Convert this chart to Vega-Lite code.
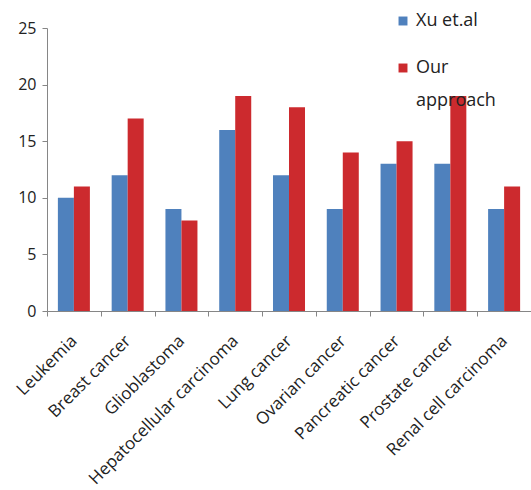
{
  "$schema": "https://vega.github.io/schema/vega-lite/v6.json",
  "width": 484,
  "height": 283,
  "autosize": {"type": "none"},
  "padding": {"left": 47, "top": 28, "right": 0, "bottom": 179},
  "background": "white",
  "config": {
    "view": {"stroke": null},
    "font": "Open Sans",
    "axis": {"labelFont": "Open Sans", "labelColor": "#222222", "domainColor": "#868686", "tickColor": "#868686", "grid": false, "title": null},
    "legend": {"labelFont": "Open Sans", "labelColor": "#222222"},
    "style": {"guide-label": {"lineHeight": 33}}
  },
  "data": {
    "values": [
      {"cancer": "Leukemia", "method": "Xu et.al", "count": 10},
      {"cancer": "Leukemia", "method": "Our approach", "count": 11},
      {"cancer": "Breast cancer", "method": "Xu et.al", "count": 12},
      {"cancer": "Breast cancer", "method": "Our approach", "count": 17},
      {"cancer": "Glioblastoma", "method": "Xu et.al", "count": 9},
      {"cancer": "Glioblastoma", "method": "Our approach", "count": 8},
      {"cancer": "Hepatocellular carcinoma", "method": "Xu et.al", "count": 16},
      {"cancer": "Hepatocellular carcinoma", "method": "Our approach", "count": 19},
      {"cancer": "Lung cancer", "method": "Xu et.al", "count": 12},
      {"cancer": "Lung cancer", "method": "Our approach", "count": 18},
      {"cancer": "Ovarian cancer", "method": "Xu et.al", "count": 9},
      {"cancer": "Ovarian cancer", "method": "Our approach", "count": 14},
      {"cancer": "Pancreatic cancer", "method": "Xu et.al", "count": 13},
      {"cancer": "Pancreatic cancer", "method": "Our approach", "count": 15},
      {"cancer": "Prostate cancer", "method": "Xu et.al", "count": 13},
      {"cancer": "Prostate cancer", "method": "Our approach", "count": 19},
      {"cancer": "Renal cell carcinoma", "method": "Xu et.al", "count": 9},
      {"cancer": "Renal cell carcinoma", "method": "Our approach", "count": 11}
    ]
  },
  "mark": {"type": "bar"},
  "encoding": {
    "x": {
      "field": "cancer",
      "type": "nominal",
      "sort": null,
      "scale": {"paddingInner": 0, "paddingOuter": 0},
      "axis": {"labelAngle": -45, "labelAlign": "right", "labelBaseline": "middle", "labelFontSize": 17, "labelPadding": 22, "tickBand": "extent", "tickSize": 5, "labelLimit": 300}
    },
    "xOffset": {
      "field": "method",
      "type": "nominal",
      "sort": ["Xu et.al", "Our approach"],
      "scale": {"paddingInner": 0, "paddingOuter": 0.68}
    },
    "y": {
      "field": "count",
      "type": "quantitative",
      "scale": {"domain": [0, 25], "nice": false},
      "axis": {"values": [0, 5, 10, 15, 20, 25], "labelFontSize": 16, "tickSize": 5, "labelPadding": 6}
    },
    "color": {
      "field": "method",
      "type": "nominal",
      "sort": ["Xu et.al", "Our approach"],
      "scale": {"domain": ["Xu et.al", "Our approach"], "range": ["#4f81bd", "#cc2a2e"]},
      "legend": {
        "title": null,
        "orient": "none",
        "legendX": 347,
        "legendY": -16,
        "zindex": -1,
        "symbolType": "square",
        "symbolSize": 80,
        "symbolStrokeWidth": 0,
        "labelFontSize": 18,
        "rowPadding": 29,
        "labelOffset": 4,
        "labelExpr": "datum.label === 'Our approach' ? ['Our', 'approach'] : datum.label"
      }
    }
  }
}
